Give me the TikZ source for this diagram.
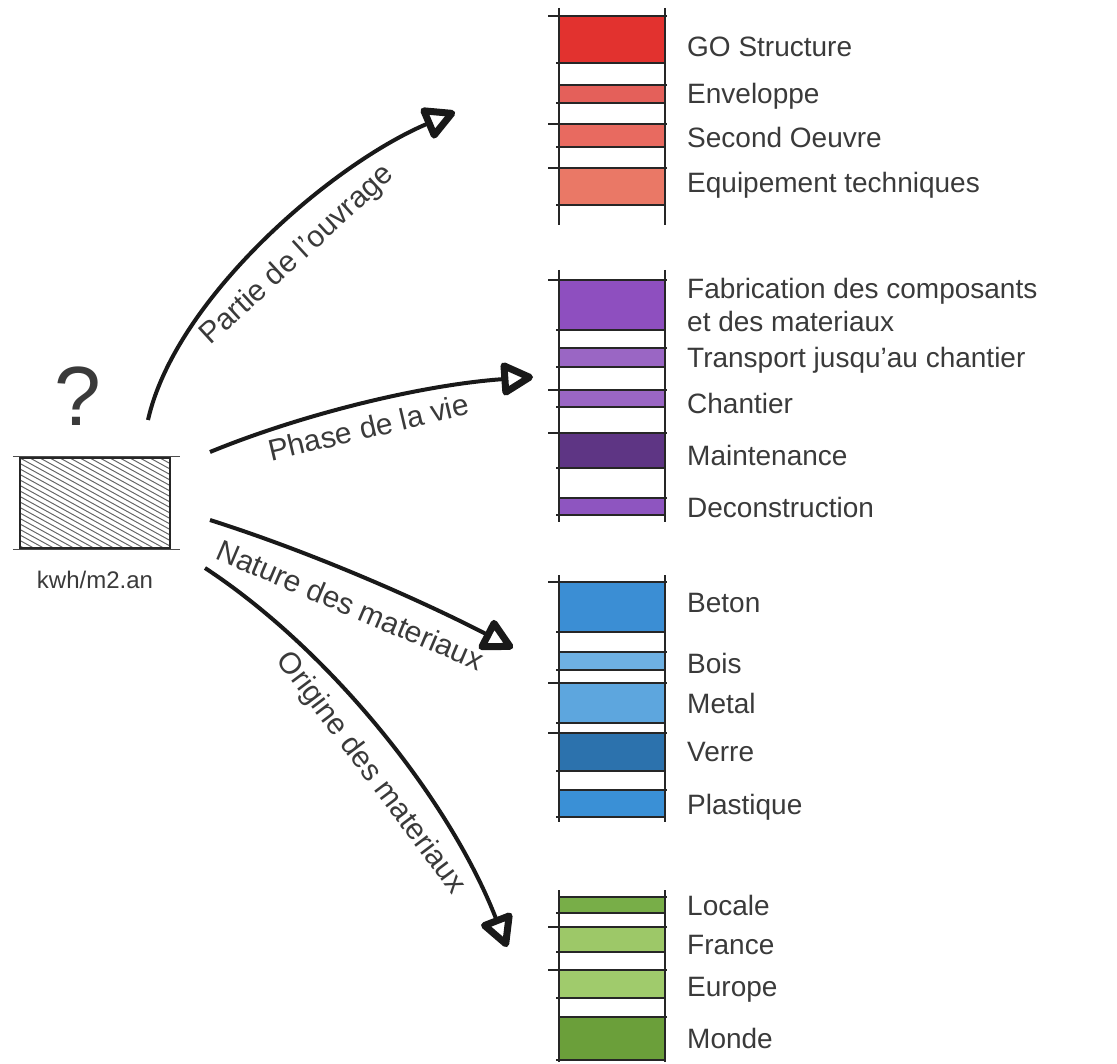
\documentclass[tikz,border=0pt]{standalone}
\usepackage{fontspec}
\setmainfont{Liberation Sans}
\usetikzlibrary{arrows.meta}

\definecolor{ink}{HTML}{3A3A3A}
\definecolor{goRed}{HTML}{E2322F}
\definecolor{envRed}{HTML}{E4605A}
\definecolor{secRed}{HTML}{E86A60}
\definecolor{equRed}{HTML}{EA7866}
\definecolor{fabPurple}{HTML}{8E4FBF}
\definecolor{trPurple}{HTML}{9A66C4}
\definecolor{mtPurple}{HTML}{5E3584}
\definecolor{decPurple}{HTML}{8E55C0}
\definecolor{betBlue}{HTML}{3B8ED4}
\definecolor{boisBlue}{HTML}{6EB0E2}
\definecolor{metBlue}{HTML}{5DA6DE}
\definecolor{verBlue}{HTML}{2C72AD}
\definecolor{plaBlue}{HTML}{3A90D6}
\definecolor{locGreen}{HTML}{78AE48}
\definecolor{frGreen}{HTML}{9DC868}
\definecolor{euGreen}{HTML}{A0CB6C}
\definecolor{monGreen}{HTML}{6B9F3A}

\begin{document}
\begin{tikzpicture}[x=1pt,y=-1pt,
    barline/.style={line width=2.5pt,draw=black!85},
    legtext/.style={anchor=west,text=ink,font=\fontsize{28}{33}\selectfont,align=left,inner sep=0pt},
    branch/.style={line width=4pt,draw=black!90,-{Triangle[open,length=36pt,width=36pt,line width=7pt,round]}},
    branchlabel/.style={sloped,text=ink,font=\fontsize{30}{34}\selectfont}]
    \useasboundingbox (0,0) rectangle (1117,1064);
    % hatched box
    \begin{scope}
        \clip (20,458) rectangle (170,548);
        \foreach \k in {-300,-290,...,160}
            \draw[line width=1pt,black!60] (20+\k,458) -- ++(200,110);
    \end{scope}
    \node[draw=black!85,line width=2.5pt,minimum width=150pt,minimum height=90pt,inner sep=0pt] (box) at (95,503) {};
    \draw[line width=1pt,black!70] ([xshift=-6pt]box.north west) -- ([xshift=9pt]box.north east);
    \draw[line width=1pt,black!70] ([xshift=-6pt]box.south west) -- ([xshift=9pt]box.south east);
    \node[text=ink,font=\fontsize{84}{84}\selectfont] (qmark) at (78,396) {?};
    \node[text=ink,font=\fontsize{24}{28}\selectfont] (unit) at (95,580) {kwh/m2.an};
    % bars
    \foreach \ya/\yb/\col/\ext in {16/63/goRed/1, 85/103/envRed/0, 124/147/secRed/1, 168/205/equRed/1,
            280/330/fabPurple/1, 348/367/trPurple/0, 390/407/trPurple/1, 433/468/mtPurple/1, 498/515/decPurple/0,
            582/632/betBlue/1, 652/670/boisBlue/0, 683/723/metBlue/1, 733/771/verBlue/1, 790/817/plaBlue/0,
            897/913/locGreen/0, 927/952/frGreen/1, 970/998/euGreen/1, 1017/1060/monGreen/0}{
        \fill[\col] (559,\ya) rectangle (665,\yb);
        \draw[barline] (559-11*\ext,\ya) -- (667,\ya);
        \draw[barline] (556,\yb) -- (665,\yb);
    }
    \foreach \ya/\yb in {8/225, 270/522, 575/822, 890/1062}{
        \draw[barline] (559,\ya) -- (559,\yb);
        \draw[barline] (665,\ya) -- (665,\yb);
    }
    % labels
    \node[legtext] (go) at (687,47) {GO Structure};
    \node[legtext] (env) at (687,96) {Enveloppe};
    \node[legtext] (sec) at (687,137) {Second Oeuvre};
    \node[legtext] (equ) at (687,185) {Equipement techniques};
    \node[legtext] (fab) at (687,305) {Fabrication des composants\\et des materiaux};
    \node[legtext] (trans) at (687,360) {Transport jusqu'au chantier};
    \node[legtext] (chant) at (687,403) {Chantier};
    \node[legtext] (maint) at (687,455) {Maintenance};
    \node[legtext] (decon) at (687,507) {Deconstruction};
    \node[legtext] (beton) at (687,603) {Beton};
    \node[legtext] (bois) at (687,663) {Bois};
    \node[legtext] (metal) at (687,703) {Metal};
    \node[legtext] (verre) at (687,752) {Verre};
    \node[legtext] (plast) at (687,807) {Plastique};
    \node[legtext] (locale) at (687,905) {Locale};
    \node[legtext] (france) at (687,945) {France};
    \node[legtext] (europe) at (687,990) {Europe};
    \node[legtext] (monde) at (687,1038) {Monde};
    % arrows
    \coordinate (s1) at (148,420);
    \coordinate (s2) at (210,452);
    \coordinate (s3) at (210,520);
    \coordinate (s4) at (205,568);
    \coordinate (ouvrage) at (455,112);
    \coordinate (vie) at (533,377);
    \coordinate (nature) at (513,648);
    \coordinate (origine) at (507,947);
    \draw[branch] (s1) .. controls (175,300) and (330,165) .. (ouvrage) node[branchlabel,below=14pt,pos=0.53] {Partie de l'ouvrage};
    \draw[branch] (s2) .. controls (300,415) and (420,385) .. (vie) node[branchlabel,below=8pt,pos=0.5] {Phase de la vie};
    \draw[branch] (s3) .. controls (320,555) and (430,605) .. (nature) node[branchlabel,below=14pt,pos=0.47] {Nature des materiaux};
    \draw[branch] (s4) .. controls (330,650) and (450,800) .. (origine) node[branchlabel,below=14pt,pos=0.55] {Origine des materiaux};
\end{tikzpicture}
\end{document}
